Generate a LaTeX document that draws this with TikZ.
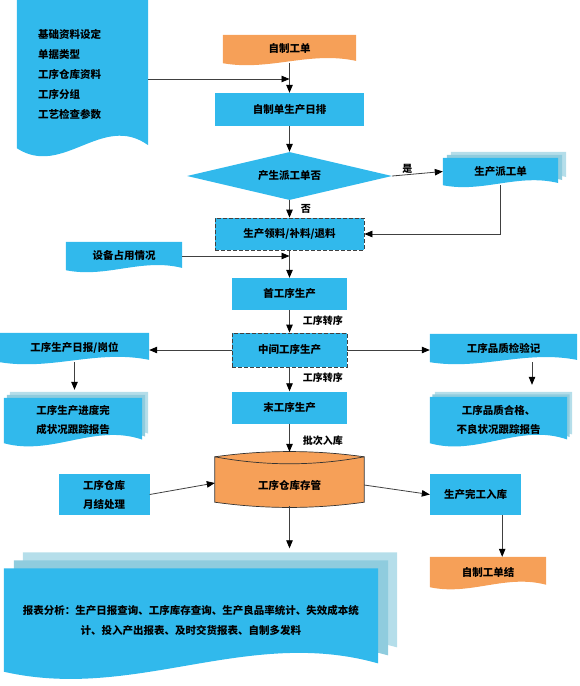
\documentclass[tikz,border=0pt]{standalone}
\usepackage{fontspec}
\setmainfont{Noto Sans CJK SC}
\usetikzlibrary{positioning,calc,arrows.meta,shapes.geometric,backgrounds}
\definecolor{flowblue}{RGB}{49,185,236}
\definecolor{floworange}{RGB}{246,160,88}
\definecolor{stackmid}{RGB}{143,204,222}
\definecolor{stackback}{RGB}{181,222,234}
\tikzset{
  txt/.style={font=\fontsize{10.5}{19}\selectfont\bfseries},
  box/.style={txt, rectangle, fill=flowblue, inner sep=0pt, align=center},
  dashbox/.style={box, draw=black!75, dash pattern=on 4pt off 2pt, line width=0.8pt},
  doc/.style={txt, rectangle, inner sep=0pt, align=center},
  lbl/.style={font=\fontsize{10}{12}\selectfont\bfseries, inner sep=1pt},
  arr/.style={draw=black!75, line width=0.8pt, -{Triangle[length=8pt,width=6.5pt,color=black]}},
}
% sheet with a wavy lower edge: node, colour, dx, dy (pt, upwards)
\newcommand{\docfill}[4]{%
  \fill[#2] let \p1=(#1.north west), \p2=(#1.south east),
    \n1={\y1-\y2}, \n2={\x2-\x1} in
    (\x1+#3pt,\y1+#4pt) -- (\x2+#3pt,\y1+#4pt) -- (\x2+#3pt,\y2+0.08*\n1+#4pt)
    .. controls (\x1+0.65*\n2+#3pt,\y2+0.44*\n1+#4pt) and (\x1+0.35*\n2+#3pt,\y2-0.29*\n1+#4pt)
    .. (\x1+#3pt,\y2+#4pt) -- cycle;}
\begin{document}
\begin{tikzpicture}[x=1pt,y=-1pt]
  \useasboundingbox (0,0) rectangle (580,686);

  % nodes
  \node[doc, text width=89pt, inner xsep=21pt, minimum height=148pt, align=left] (info) at (82.5,74)
    {基础资料设定\\[1pt]单据类型\\[1pt]工序仓库资料\\[1pt]工序分组\\[1pt]工艺检查参数};
  \node[doc, minimum width=133pt, minimum height=28pt] (order) at (289.5,49) {自制工单};
  \node[box, minimum width=149pt, minimum height=33pt] (plan) at (289.5,109.5) {自制单生产日排};
  \node[txt, diamond, fill=flowblue, aspect=4, inner sep=0pt,
        minimum width=205pt, minimum height=48pt] (ask) at (289.5,176) {产生派工单否};
  \node[doc, minimum width=115pt, minimum height=27pt] (worder) at (500.5,171.5) {生产派工单};
  \node[dashbox, minimum width=149pt, minimum height=32pt] (issue) at (289.5,234) {生产领料/补料/退料};
  \node[doc, minimum width=116pt, minimum height=28pt] (equip) at (124,256) {设备占用情况};
  \node[box, minimum width=115pt, minimum height=32pt] (first) at (289.5,294) {首工序生产};
  \node[dashbox, minimum width=115pt, minimum height=34pt] (mid) at (289.5,350) {中间工序生产};
  \node[doc, minimum width=149pt, minimum height=29pt] (daily) at (74.5,347.5) {工序生产日报/岗位};
  \node[doc, minimum width=147pt, minimum height=28pt] (qc) at (503.5,348) {工序品质检验记};
  \node[doc, minimum width=138pt, minimum height=45pt] (progress) at (73,420.5) {工序生产进度完\\成状况跟踪报告};
  \node[doc, minimum width=137pt, minimum height=46pt] (qcrep) at (498.5,420) {工序品质合格、\\不良状况跟踪报告};
  \node[box, minimum width=115pt, minimum height=32pt] (last) at (289.5,407.5) {末工序生产};
  \node[txt, minimum width=149pt, minimum height=42pt, inner sep=0pt] (store) at (289.5,485) {工序仓库存管};
  \node[box, minimum width=91pt, minimum height=41pt] (month) at (104,494.5) {工序仓库\\月结处理};
  \node[box, minimum width=91pt, minimum height=41pt] (done) at (475.5,494.5) {生产完工入库};
  \node[doc, minimum width=116pt, minimum height=30pt] (close) at (488,572) {自制工单结};
  \node[doc, minimum width=374pt, minimum height=103pt, font=\fontsize{10.5}{20}\selectfont\bfseries] (report) at (191,620)
    {报表分析：生产日报查询、工序库存查询、生产良品率统计、失效成本统\\计、投入产出报表、及时交货报表、自制多发料};

  % sheets and store behind the text
  \begin{pgfonlayer}{background}
    \fill[flowblue] (info.north west) -- (info.north east) -- ($(info.south east)+(0,-3)$)
      .. controls ($(info.south east)+(-46,-36)$) and ($(info.south west)+(46,30)$) .. (info.south west) -- cycle;
    \docfill{order}{floworange}{0}{0}
    \docfill{worder}{stackback}{8}{6}
    \docfill{worder}{stackmid}{4}{3}
    \docfill{worder}{flowblue}{0}{0}
    \docfill{equip}{flowblue}{0}{0}
    \docfill{daily}{flowblue}{0}{0}
    \docfill{qc}{flowblue}{0}{0}
    \docfill{progress}{stackback}{6}{6}
    \docfill{progress}{stackmid}{3}{3}
    \docfill{progress}{flowblue}{0}{0}
    \docfill{qcrep}{stackback}{5}{5}
    \docfill{qcrep}{stackmid}{2.5}{2.5}
    \docfill{qcrep}{flowblue}{0}{0}
    \docfill{close}{floworange}{0}{0}
    \docfill{report}{stackback}{19}{16}
    \docfill{report}{stackmid}{10}{8}
    \docfill{report}{flowblue}{0}{0}
    \filldraw[fill=floworange, draw=black!80, line width=0.7pt]
      ($(store.north west)+(0,-7)$) .. controls +(50,-7) and +(-50,-7) .. ($(store.north east)+(0,-7)$)
      -- ($(store.south east)+(0,-4)$) .. controls +(-50,7) and +(50,7) .. ($(store.south west)+(0,-4)$) -- cycle;
    \draw[black!80, line width=0.7pt]
      ($(store.north west)+(0,-7)$) .. controls +(50,9.3) and +(-50,9.3) .. ($(store.north east)+(0,-7)$);
  \end{pgfonlayer}

  % connectors
  \coordinate (join) at (289.5,79);
  \draw[arr] (info.east |- join) -- (join);
  \draw[arr] (order.south) -- (plan.north);
  \draw[arr] (plan.south) -- (ask.north);
  \draw[arr] (ask.east) -- node[lbl, above, pos=0.3] {是} (worder.west);
  \draw[arr] (ask.south) -- node[lbl, right=10pt, pos=0.5] {否} (issue.north);
  \draw[arr] (worder.south) |- (issue.east);
  \draw[arr] (equip.east) -- (equip.east -| issue.south);
  \draw[arr] (issue.south) -- (first.north);
  \draw[arr] (first.south) -- node[lbl, right=12pt, pos=0.45] {工序转序} (mid.north);
  \draw[arr] (mid.west) -- (mid.west -| daily.east);
  \draw[arr] (mid.east) -- (mid.east -| qc.west);
  \draw[arr] (daily.south) -- ($(daily.south |- progress.north)+(0,-8)$);
  \draw[arr] ($(qc.south)+(28.5,0)$) coordinate (q1) -- ($(q1 |- qcrep.north)+(0,-12)$);
  \draw[arr] (mid.south) -- node[lbl, right=12pt, pos=0.45] {工序转序} (last.north);
  \draw[arr] (last.south) -- node[lbl, right=12pt, pos=0.6] {批次入库} ($(store.north)+(0,-12)$);
  \draw[arr] (month.east) -- ($(store.west)+(0,-2)$);
  \draw[arr] (store.east) -- (done.west);
  \draw[arr] ($(done.south east)+(-19,0)$) coordinate (d1) -- (d1 |- close.north);
  \draw[arr] (store.south) -- ($(store.south |- report.north)+(0,-20)$);
\end{tikzpicture}
\end{document}
